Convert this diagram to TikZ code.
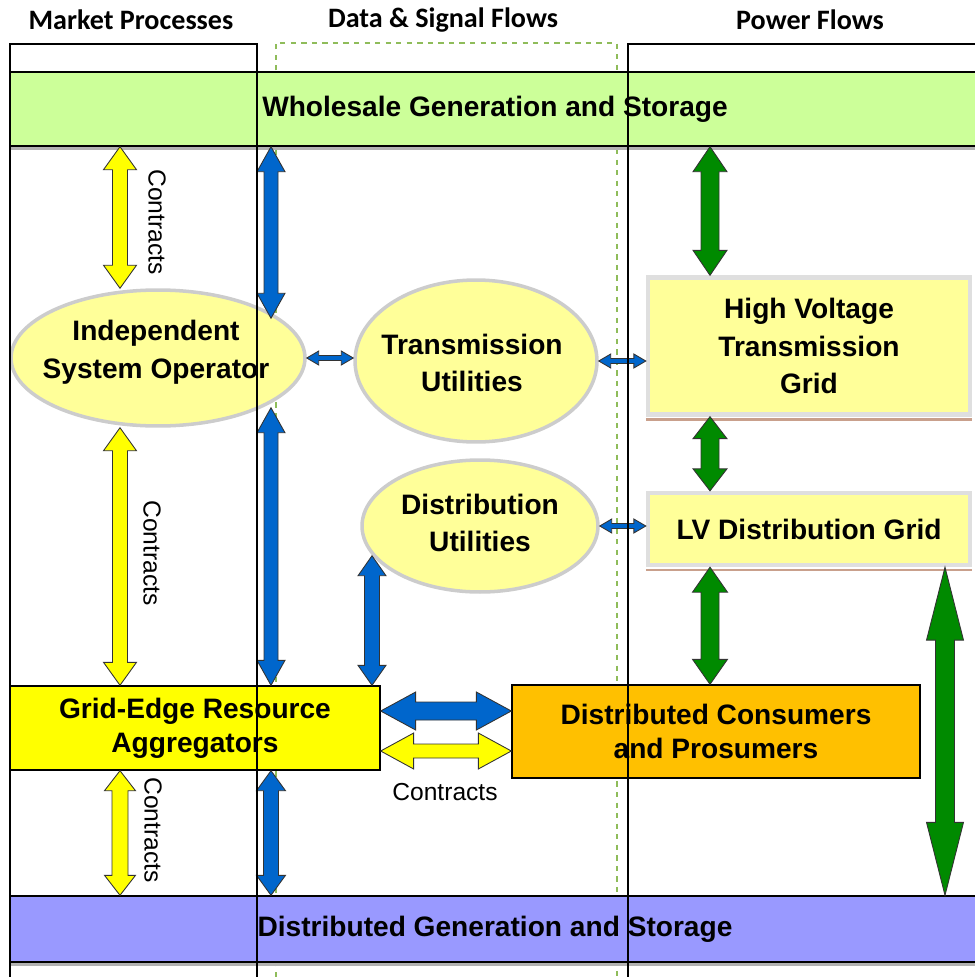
\documentclass[tikz,border=0pt]{standalone}
\usepackage{fontspec}
\setmainfont{Liberation Sans}
\newfontfamily\headfont{Carlito}
\usepackage{tikz}
\usetikzlibrary{shapes,arrows,calc,positioning}

\definecolor{wsgreen}{HTML}{CCFF99}
\definecolor{dgpurple}{HTML}{9999FF}
\definecolor{paleyellow}{HTML}{FFFF99}
\definecolor{aggyellow}{HTML}{FFFF00}
\definecolor{dcporange}{HTML}{FFC000}
\definecolor{sigblue}{HTML}{0066CC}
\definecolor{pwgreen}{HTML}{008A00}
\definecolor{lanedash}{HTML}{8FBC5A}
\definecolor{shadowbrown}{HTML}{C9A08C}

\newcommand{\boxfont}{\fontsize{16}{21.5}\selectfont\bfseries}
\newcommand{\actorfont}{\fontsize{16}{19.5}\selectfont\bfseries}

\tikzstyle{heading} = [font=\headfont\fontsize{16}{18}\selectfont\bfseries]
\tikzstyle{band} = [rectangle, draw, line width=0.8pt, minimum width=19.4cm, inner sep=0pt, font=\boxfont]
\tikzstyle{ell} = [ellipse, draw=gray!40, line width=2pt, fill=paleyellow]
\tikzstyle{txt} = [align=center, font=\boxfont]
\tikzstyle{gridbox} = [rectangle, draw=gray!25, line width=2.5pt, fill=paleyellow, minimum width=6.44cm, align=center, font=\boxfont]
\tikzstyle{actor} = [rectangle, draw, line width=0.8pt, align=center, font=\actorfont]
\tikzstyle{contract} = [font=\fontsize{14}{16}\selectfont]
\tikzstyle{yarrow} = [fill=aggyellow, draw=black!80, line width=0.5pt]
\tikzstyle{barrow} = [fill=sigblue, draw=black!80, line width=0.5pt]
\tikzstyle{garrow} = [fill=pwgreen, draw=black!80, line width=0.5pt]

% block arrow with two heads: style, from, to, half shaft, half head, head length
\newcommand{\blockarrow}[6]{%
  \coordinate (ba) at (#2);
  \coordinate (bb) at (#3);
  \filldraw[#1] (ba)
    -- ($(ba)!#6!(bb)!#5!90:(bb)$)
    -- ($(ba)!#6!(bb)!#4!90:(bb)$)
    -- ($(bb)!#6!(ba)!#4!-90:(ba)$)
    -- ($(bb)!#6!(ba)!#5!-90:(ba)$)
    -- (bb)
    -- ($(bb)!#6!(ba)!#5!90:(ba)$)
    -- ($(bb)!#6!(ba)!#4!90:(ba)$)
    -- ($(ba)!#6!(bb)!#4!-90:(bb)$)
    -- ($(ba)!#6!(bb)!#5!-90:(bb)$)
    -- cycle;
}

\begin{document}
\begin{tikzpicture}[x=0.02cm, y=-0.02cm]
    \useasboundingbox (0,0) rectangle (974,977);
    % Lane headings
    \node [heading] (mkthead) at (131,20) {Market Processes};
    \node [heading] (sighead) at (443,20) {Data \& Signal Flows};
    \node [heading] (pwhead) at (810,20) {Power Flows};
    % Dashed lane (behind)
    \draw [lanedash, dashed, line width=0.6pt] (276,977) -- (276,43) -- (617,43) -- (617,977);
    % Bands
    \node [band, fill=wsgreen, minimum height=1.48cm] (whole) at (495,109) {Wholesale Generation and Storage};
    \draw [gray!60, line width=2pt] ([yshift=-1pt]whole.south west) -- ([yshift=-1pt]whole.south east);
    \node [band, fill=dgpurple, minimum height=1.32cm] (dg) at (495,929) {Distributed Generation and Storage};
    \draw [gray!60, line width=2pt] ([yshift=-1pt]dg.south west) -- ([yshift=-1pt]dg.south east);
    % Ellipses
    \node [ell, minimum width=5.88cm, minimum height=2.72cm] (iso) at (158,358) {};
    \node [txt] (isotxt) at (156,352) {Independent\\System Operator};
    \node [ell, minimum width=4.84cm, minimum height=3.24cm] (tu) at (476,361) {};
    \node [txt] (tutxt) at (472,363) {Transmission\\Utilities};
    \node [ell, minimum width=4.72cm, minimum height=2.64cm] (dutil) at (480,526) {};
    \node [txt] (dutxt) at (480,523) {Distribution\\Utilities};
    % Boxes
    \node [gridbox, minimum height=2.74cm] (hv) at (809,346) {High Voltage\\Transmission\\Grid};
    \draw [shadowbrown, line width=1.5pt] ([yshift=-1.5pt]hv.south west) -- ([yshift=-1.5pt]hv.south east);
    \node [gridbox, minimum height=1.44cm] (lv) at (809,529) {LV Distribution Grid};
    \draw [shadowbrown, line width=1.5pt] ([yshift=-1.5pt]lv.south west) -- ([yshift=-1.5pt]lv.south east);
    \node [actor, fill=aggyellow, minimum width=7.4cm, minimum height=1.68cm] (ge) at (195,728) {Grid-Edge Resource\\Aggregators};
    \node [actor, fill=dcporange, minimum width=8.16cm, minimum height=1.86cm] (dcp) at (716,731.5) {Distributed Consumers\\and Prosumers};
    % Arrow columns
    \coordinate (mkt) at (120,0);
    \coordinate (sig) at (271,0);
    \coordinate (du) at (372,0);
    \coordinate (pw) at (710,0);
    \coordinate (edge) at (945,0);
    % Market arrows
    \blockarrow{yarrow}{whole.south -| mkt}{iso.north -| mkt}{0.15cm}{0.33cm}{0.46cm}
    \blockarrow{yarrow}{iso.south -| mkt}{ge.north -| mkt}{0.15cm}{0.33cm}{0.46cm}
    \blockarrow{yarrow}{ge.south -| mkt}{dg.north -| mkt}{0.16cm}{0.31cm}{0.4cm}
    % Data arrows
    \blockarrow{barrow}{whole.south -| sig}{$(iso.north -| sig)+(0,30)$}{0.14cm}{0.28cm}{0.5cm}
    \blockarrow{barrow}{$(iso.south -| sig)+(0,-20)$}{ge.north -| sig}{0.14cm}{0.28cm}{0.5cm}
    \blockarrow{barrow}{ge.south -| sig}{dg.north -| sig}{0.15cm}{0.29cm}{0.4cm}
    \blockarrow{barrow}{$(dutil.south -| du)+(0,-38)$}{ge.north -| du}{0.15cm}{0.28cm}{0.4cm}
    \blockarrow{barrow}{iso.east}{iso.east -| tu.west}{0.05cm}{0.14cm}{0.24cm}
    \blockarrow{barrow}{tu.east}{tu.east -| hv.west}{0.05cm}{0.14cm}{0.24cm}
    \blockarrow{barrow}{dutil.east}{dutil.east -| lv.west}{0.05cm}{0.14cm}{0.24cm}
    \blockarrow{barrow}{$(ge.east)+(0,-17)$}{$(ge.east -| dcp.west)+(0,-17)$}{0.18cm}{0.38cm}{0.7cm}
    \blockarrow{yarrow}{$(ge.east)+(0,23)$}{$(ge.east -| dcp.west)+(0,23)$}{0.14cm}{0.36cm}{0.66cm}
    % Power arrows
    \blockarrow{garrow}{whole.south -| pw}{hv.north -| pw}{0.18cm}{0.34cm}{0.5cm}
    \blockarrow{garrow}{hv.south -| pw}{lv.north -| pw}{0.18cm}{0.34cm}{0.44cm}
    \blockarrow{garrow}{lv.south -| pw}{dcp.north -| pw}{0.18cm}{0.35cm}{0.5cm}
    \blockarrow{garrow}{lv.south -| edge}{dg.north -| edge}{0.19cm}{0.37cm}{1.46cm}
    % Contract labels
    \node [contract, rotate=-90] (ctop) at (157,222) {Contracts};
    \node [contract, rotate=-90] (cmid) at (152,553) {Contracts};
    \node [contract, rotate=-90] (clow) at (153,830) {Contracts};
    \node [contract] (cside) at (445,792) {Contracts};
    % Solid lanes (on top)
    \draw [line width=0.8pt] (10,977) -- (10,44) -- (257,44) -- (257,977);
    \draw [line width=0.8pt] (628,977) -- (628,44) -- (980,44);
\end{tikzpicture}
\end{document}
